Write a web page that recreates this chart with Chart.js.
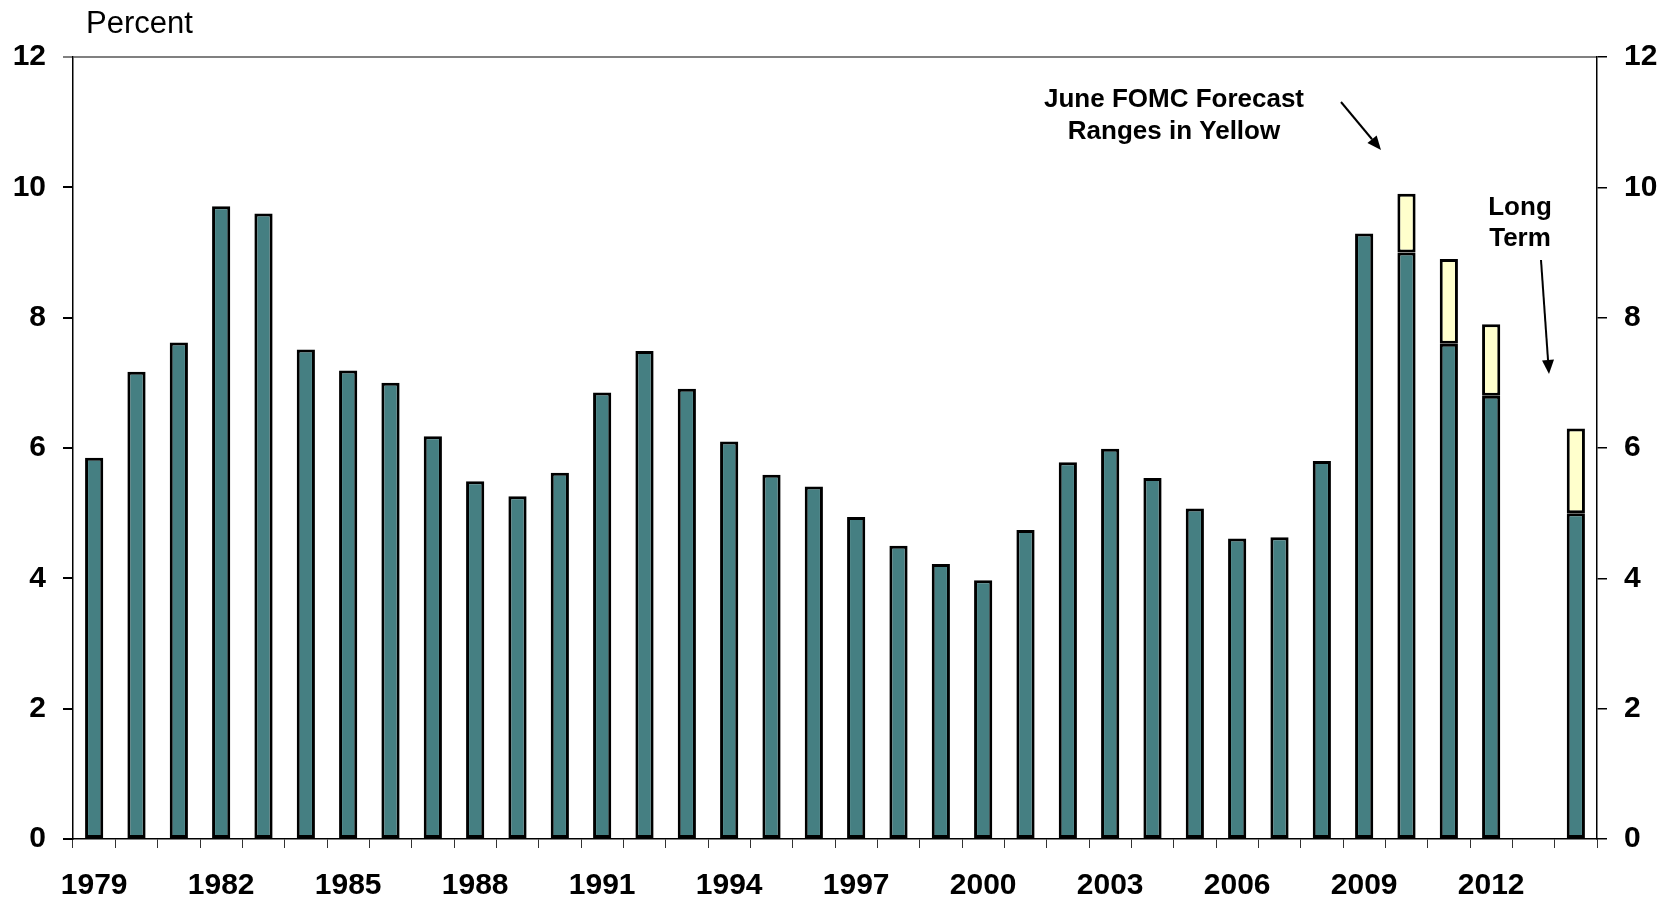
<!DOCTYPE html>
<html>
<head>
<meta charset="utf-8">
<script src="https://cdn.jsdelivr.net/npm/chart.js@4"></script>
<style>
  body { margin: 0; background: #fff; }
  #wrap { width: 1668px; height: 903px; }
</style>
</head>
<body>
<div id="wrap"><canvas id="rateChart"></canvas></div>
<script>
// categories: 1979..2013 plus the long-term slot
var years = ['1979','1980','1981','1982','1983','1984','1985','1986','1987','1988',
  '1989','1990','1991','1992','1993','1994','1995','1996','1997','1998','1999',
  '2000','2001','2002','2003','2004','2005','2006','2007','2008','2009','2010',
  '2011','2012','2013','Long Term'];
var tickYears = ['1979','1982','1985','1988','1991','1994','1997','2000','2003','2006','2009','2012'];

// actual rate (and low end of forecast range for 2010-2012, long term)
var actual = [5.85, 7.17, 7.62, 9.71, 9.6, 7.51, 7.19, 7.0, 6.18, 5.49,
  5.26, 5.62, 6.85, 7.49, 6.91, 6.1, 5.59, 5.41, 4.94, 4.5, 4.22,
  3.97, 4.74, 5.78, 5.99, 5.54, 5.07, 4.61, 4.63, 5.8, 9.29, 9.0,
  7.6, 6.8, null, 5.0];
// June FOMC forecast ranges
var rangeLow  = {'2010': 9.0, '2011': 7.6, '2012': 6.8, 'Long Term': 5.0};
var rangeHigh = {'2010': 9.9, '2011': 8.9, '2012': 7.9, 'Long Term': 6.3};

var ranges = years.map(function (y) {
  return rangeLow[y] != null ? [rangeLow[y], rangeHigh[y]] : null;
});

var annotations = {
  id: 'annotations',
  afterDraw: function (chart) {
    var ctx = chart.ctx;
    ctx.save();
    ctx.fillStyle = '#000';
    ctx.font = '31px "Liberation Sans", Arial, sans-serif';
    ctx.textAlign = 'left';
    ctx.textBaseline = 'middle';
    ctx.fillText('Percent', 86, 24);

    ctx.font = 'bold 26px "Liberation Sans", Arial, sans-serif';
    ctx.textAlign = 'center';
    ctx.fillText('June FOMC Forecast', 1174, 100);
    ctx.fillText('Ranges in Yellow', 1174, 132);
    ctx.fillText('Long', 1520, 208);
    ctx.fillText('Term', 1520, 239);

    arrow(ctx, 1341, 102, 1381, 150);
    arrow(ctx, 1541, 260, 1549, 374);
    ctx.restore();
  }
};

function arrow(ctx, x1, y1, x2, y2) {
  var a = Math.atan2(y2 - y1, x2 - x1);
  var len = 14, w = 6;
  ctx.strokeStyle = '#000';
  ctx.lineWidth = 2;
  ctx.beginPath();
  ctx.moveTo(x1, y1);
  ctx.lineTo(x2 - Math.cos(a) * len, y2 - Math.sin(a) * len);
  ctx.stroke();
  ctx.beginPath();
  ctx.moveTo(x2, y2);
  ctx.lineTo(x2 - Math.cos(a) * len - Math.sin(a) * w, y2 - Math.sin(a) * len + Math.cos(a) * w);
  ctx.lineTo(x2 - Math.cos(a) * len + Math.sin(a) * w, y2 - Math.sin(a) * len - Math.cos(a) * w);
  ctx.closePath();
  ctx.fill();
}

var tickFont = { family: '"Liberation Sans", Arial, sans-serif', size: 30, weight: 'bold' };

new Chart(document.getElementById('rateChart'), {
  type: 'bar',
  data: {
    labels: years,
    datasets: [{
      label: 'Actual',
      data: actual,
      backgroundColor: '#457F82',
      borderColor: '#000',
      borderWidth: 3,
      borderSkipped: false,
      grouped: false,
      order: 2
    }, {
      label: 'Forecast range',
      data: ranges,
      backgroundColor: '#FFFFCC',
      borderColor: '#000',
      borderWidth: 3,
      borderSkipped: false,
      grouped: false,
      order: 1
    }]
  },
  options: {
    responsive: true,
    maintainAspectRatio: false,
    animation: false,
    layout: { padding: { top: 57, left: 0, right: 0, bottom: 0 } },
    datasets: { bar: { categoryPercentage: 1, barPercentage: 0.43 } },
    plugins: { legend: { display: false }, tooltip: { enabled: false } },
    scales: {
      x: {
        offset: true,
        grid: { offset: true, drawOnChartArea: false, color: '#333', tickLength: 9 },
        border: { color: '#000', width: 1.5 },
        ticks: {
          autoSkip: false, maxRotation: 0, padding: 20, color: '#000', font: tickFont,
          callback: function (v) {
            var l = this.getLabelForValue(v);
            return tickYears.indexOf(l) >= 0 ? l : '';
          }
        },
        afterFit: function (s) { s.height = 64; }
      },
      y: {
        position: 'left',
        min: 0, max: 12,
        ticks: { stepSize: 2, padding: 17, color: '#000', font: tickFont },
        grid: {
          tickLength: 10,
          lineWidth: 2,
          color: function (c) { return c.tick && c.tick.value === 12 ? '#808080' : 'rgba(0,0,0,0)'; },
          tickColor: function (c) { return c.tick && c.tick.value === 12 ? '#808080' : '#000'; }
        },
        border: { color: '#000', width: 1.5 },
        afterFit: function (s) { s.width = 73; }
      },
      y2: {
        position: 'right',
        min: 0, max: 12,
        ticks: { stepSize: 2, padding: 17, color: '#000', font: tickFont },
        grid: { drawOnChartArea: false, tickLength: 10, color: '#000', lineWidth: 1.5 },
        border: { color: '#000', width: 1.5 },
        afterFit: function (s) { s.width = 71; }
      }
    }
  },
  plugins: [annotations]
});
</script>
</body>
</html>
